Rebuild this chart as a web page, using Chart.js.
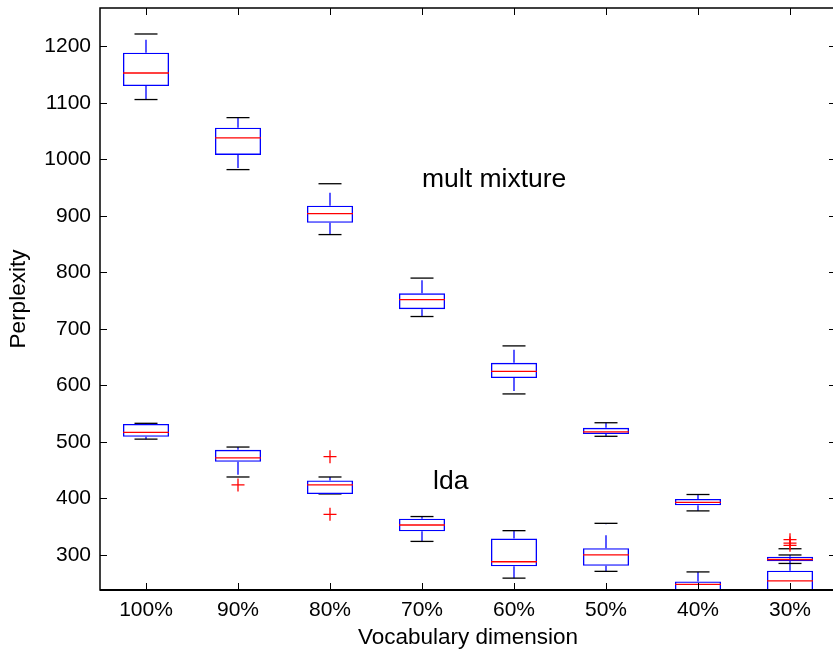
<!DOCTYPE html>
<html>
<head>
<meta charset="utf-8">
<title>Perplexity vs vocabulary dimension</title>
<script src="https://cdn.jsdelivr.net/npm/chart.js@4.4.1/dist/chart.umd.min.js"></script>
<style>
    html, body { margin: 0; padding: 0; background: #fff; overflow: hidden; }
    #chartBox { position: absolute; left: 0; top: 0; width: 836px; height: 655px; }
</style>
</head>
<body>
<div id="chartBox"><canvas id="boxChart" width="836" height="655"></canvas></div>
<script>
// Categories and y ticks
const categories = ['100%', '90%', '80%', '70%', '60%', '50%', '40%', '30%'];
const yTickValues = [300, 400, 500, 600, 700, 800, 900, 1000, 1100, 1200];

// mult mixture boxes (lower whisker, q1, median, q3, upper whisker)
const multLo  = [1106, 982, 867, 722, 585, 510, 378, 285];
const multQ1  = [1130, 1008, 888, 735, 613, 514, 388, 289];
const multMed = [1153, 1038, 904, 752, 625, 518, 393, 292];
const multQ3  = [1189, 1056, 918, 763, 640, 525, 399, 297];
const multHi  = [1222, 1074, 957, 790, 670, 534, 407, 300];

// lda boxes
const ldaLo  = [505, 438, 408, 324, 259, 271, 222, 220];
const ldaQ1  = [509, 465, 408, 342, 280, 281, 235, 235];
const ldaMed = [517, 472, 424, 353, 288, 300, 248, 254];
const ldaQ3  = [532, 486, 432, 364, 329, 312, 253, 272];
const ldaHi  = [533, 491, 438, 368, 343, 356, 270, 311];

// outliers (category, value)
const outlierCat = ['90%', '80%', '80%', '30%', '30%', '30%'];
const outlierVal = [424, 474, 372, 327, 321, 317];

// text labels placed in data space (x as category position)
const annotations = [
    { text: 'mult mixture', x: 3, y: 965 },
    { text: 'lda', x: 3.12, y: 430 }
];

const FONT = '"Liberation Sans", Arial, Helvetica, sans-serif';
const BLUE = '#0000ff';
const RED = '#ff0000';
const LW = 1.3;

// Build whisker segments: box edge -> whisker end, null breaks the line
function whiskerPoints(q1, q3, lo, hi) {
    const pts = [];
    categories.forEach((c, i) => {
        pts.push({ x: c, y: q3[i] }, { x: c, y: hi[i] }, { x: c, y: null });
        pts.push({ x: c, y: q1[i] }, { x: c, y: lo[i] }, { x: c, y: null });
    });
    return pts;
}

function boxRanges(q1, q3) {
    return q1.map((v, i) => [v, q3[i]]);
}

function markerSet(values, style, radius, color, order) {
    return {
        type: 'line',
        data: values,
        showLine: false,
        pointStyle: style,
        pointRadius: radius,
        pointBorderColor: color,
        pointBackgroundColor: color,
        pointBorderWidth: LW,
        clip: 0,
        order: order
    };
}

function boxSet(label, q1, q3) {
    return {
        label: label,
        data: boxRanges(q1, q3),
        grouped: false,
        backgroundColor: 'rgba(255,255,255,0)',
        borderColor: BLUE,
        borderWidth: LW,
        borderSkipped: false,
        barPercentage: 0.5,
        categoryPercentage: 1,
        clip: 0,
        order: 2
    };
}

// Inner ticks on all four sides plus the axes frame
const axesFrame = {
    id: 'axesFrame',
    afterDraw(chart) {
        const { ctx, chartArea: a, scales: { x, y } } = chart;
        ctx.save();
        ctx.strokeStyle = '#000';
        ctx.lineWidth = 1;
        ctx.beginPath();
        x.ticks.forEach((t, i) => {
            const px = Math.round(x.getPixelForTick(i)) + 0.5;
            ctx.moveTo(px, a.bottom); ctx.lineTo(px, a.bottom - 7);
            ctx.moveTo(px, a.top); ctx.lineTo(px, a.top + 7);
        });
        y.ticks.forEach((t, i) => {
            const py = Math.round(y.getPixelForTick(i)) + 0.5;
            ctx.moveTo(a.left, py); ctx.lineTo(a.left + 7, py);
            ctx.moveTo(a.right, py); ctx.lineTo(a.right - 7, py);
        });
        ctx.stroke();
        ctx.lineWidth = 1.5;
        ctx.strokeRect(a.left, a.top, a.right - a.left, a.bottom - a.top);
        ctx.lineWidth = 2;
        ctx.beginPath();
        ctx.moveTo(a.left, a.bottom); ctx.lineTo(a.right, a.bottom);
        ctx.stroke();
        ctx.restore();
    }
};

// Text annotations at data coordinates
const textLabels = {
    id: 'textLabels',
    afterDatasetsDraw(chart) {
        const { ctx, scales: { x, y } } = chart;
        ctx.save();
        ctx.fillStyle = '#000';
        ctx.font = '26.5px ' + FONT;
        ctx.textAlign = 'left';
        ctx.textBaseline = 'middle';
        annotations.forEach(a => {
            ctx.fillText(a.text, x.getPixelForValue(a.x), y.getPixelForValue(a.y));
        });
        ctx.restore();
    }
};

const ctx = document.getElementById('boxChart');

new Chart(ctx, {
    type: 'bar',
    data: {
        labels: categories,
        datasets: [
            markerSet(multMed, 'line', 23, RED, 0),
            markerSet(ldaMed, 'line', 23, RED, 0),
            markerSet(outlierCat.map((c, i) => ({ x: c, y: outlierVal[i] })), 'cross', 6.5, RED, 1),
            boxSet('mult mixture', multQ1, multQ3),
            boxSet('lda', ldaQ1, ldaQ3),
            markerSet(multHi, 'line', 11.5, '#000', 3),
            markerSet(multLo, 'line', 11.5, '#000', 3),
            markerSet(ldaHi, 'line', 11.5, '#000', 3),
            markerSet(ldaLo, 'line', 11.5, '#000', 3),
            {
                type: 'line',
                data: whiskerPoints(multQ1, multQ3, multLo, multHi).concat(whiskerPoints(ldaQ1, ldaQ3, ldaLo, ldaHi)),
                borderColor: BLUE,
                borderWidth: LW,
                borderDash: [13, 11],
                pointRadius: 0,
                spanGaps: false,
                clip: 0,
                order: 4
            }
        ]
    },
    options: {
        responsive: false,
        animation: false,
        events: [],
        layout: { autoPadding: false, padding: { top: 8, left: 0, right: 0, bottom: 0 } },
        plugins: {
            legend: { display: false },
            tooltip: { enabled: false }
        },
        scales: {
            x: {
                type: 'category',
                offset: true,
                grid: { display: false, drawTicks: false },
                border: { display: false },
                ticks: {
                    color: '#000',
                    padding: 8,
                    maxRotation: 0,
                    autoSkip: false,
                    font: { family: FONT, size: 21 }
                },
                title: {
                    display: true,
                    text: 'Vocabulary dimension',
                    color: '#000',
                    padding: { top: 0, bottom: 4 },
                    font: { family: FONT, size: 22.5 }
                },
                afterFit: s => { s.height = 65; s.paddingLeft = 0; s.paddingRight = 0; }
            },
            y: {
                type: 'linear',
                min: 238,
                max: 1268,
                grid: { display: false, drawTicks: false },
                border: { display: false },
                ticks: {
                    color: '#000',
                    padding: 9,
                    font: { family: FONT, size: 21 },
                    callback: v => String(v)
                },
                afterBuildTicks: s => { s.ticks = yTickValues.map(v => ({ value: v })); },
                title: {
                    display: true,
                    text: 'Perplexity',
                    color: '#000',
                    padding: { top: 5, bottom: 0 },
                    font: { family: FONT, size: 22.5 }
                },
                afterFit: s => { s.width = 100; s.paddingTop = 0; s.paddingBottom = 0; }
            }
        }
    },
    plugins: [axesFrame, textLabels]
});
</script>
</body>
</html>
